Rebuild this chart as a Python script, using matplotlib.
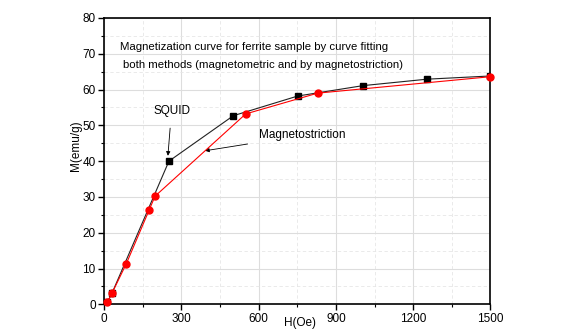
import matplotlib
matplotlib.use("Agg")
import matplotlib.pyplot as plt
from matplotlib.ticker import MultipleLocator

plt.rcParams['font.family'] = ['Liberation Sans', 'DejaVu Sans']

# SQUID (black squares)
h_squid = [13, 31, 252, 502, 752, 1005, 1253, 1500]
m_squid = [0.6, 3.1, 40.0, 52.7, 58.2, 61.1, 62.9, 63.8]

# magnetostriction (red circles)
h_mag = [13, 31, 87, 175, 198, 550, 829, 1500]
m_mag = [0.6, 3.1, 11.4, 26.3, 30.2, 53.2, 59.0, 63.6]

fig = plt.figure(figsize=(5.84, 3.34), dpi=100)
ax = fig.add_axes([104 / 584, 1 - 304.3 / 334, 386.5 / 584, 286.3 / 334])

ax.plot(h_squid, m_squid, color='#222222', lw=0.8, marker='s', ms=4,
        mfc='black', mec='black', zorder=3)
ax.plot(h_mag, m_mag, color='red', lw=0.8, marker='o', ms=5,
        mfc='red', mec='red', zorder=4, clip_on=False)

ax.set_xlim(0, 1500)
ax.set_ylim(0, 80)
ax.xaxis.set_major_locator(MultipleLocator(300))
ax.xaxis.set_minor_locator(MultipleLocator(150))
ax.yaxis.set_major_locator(MultipleLocator(10))
ax.yaxis.set_minor_locator(MultipleLocator(5))

ax.grid(which='major', color='#dddddd', lw=0.8, ls='-')
ax.grid(which='minor', color='#e6e6e6', lw=0.6, ls=(0, (4, 3)))
ax.set_axisbelow(True)

ax.tick_params(which='major', direction='out', length=4, width=1, labelsize=8.5, pad=2)
ax.tick_params(which='minor', direction='out', length=2, width=0.8)
ax.tick_params(top=False, right=False)
for s in ax.spines.values():
    s.set_linewidth(1.2)
    s.set_color('black')

ax.set_xlabel('H(Oe)', fontsize=8.5)
ax.set_ylabel('M(emu/g)', fontsize=8.5)
ax.xaxis.set_label_coords(0.507, -0.046)
ax.yaxis.set_label_coords(-0.058, 0.553)

ax.text(62, 72, 'Magnetization curve for ferrite sample by curve fitting',
        fontsize=8.2, va='center')
ax.text(72, 67, 'both methods (magnetometric and by magnetostriction)',
        fontsize=8.2, va='center')

ax.annotate('SQUID', xy=(248, 41.5), xytext=(262, 54), fontsize=8.5,
            ha='center', va='center',
            arrowprops=dict(arrowstyle='-|>', color='black', lw=0.6,
                            mutation_scale=6, shrinkA=6, shrinkB=0))
ax.annotate('Magnetostriction', xy=(392, 42.9), xytext=(600, 47.2), fontsize=8.5,
            ha='left', va='center',
            arrowprops=dict(arrowstyle='-|>', color='black', lw=0.6,
                            mutation_scale=6, shrinkA=6, shrinkB=0))

fig.savefig('out.png', dpi=100)
